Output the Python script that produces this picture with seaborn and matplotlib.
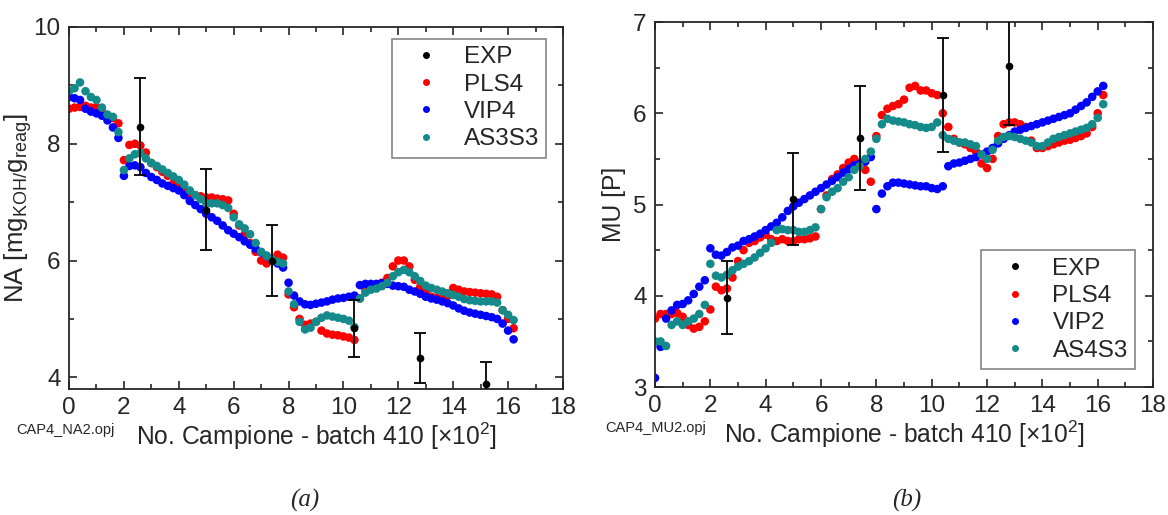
import numpy as np
import pandas as pd
import matplotlib
matplotlib.use('Agg')
import matplotlib.pyplot as plt
import seaborn as sns
from matplotlib.lines import Line2D
from matplotlib.ticker import MultipleLocator

# sample number (x 10^2), one reading every 0.2
sample = np.round(np.arange(0, 16.21, 0.2), 1)

# ---- (a) NA ----
na_pls4 = [8.6, 8.62, 8.63, 8.65, 8.62, 8.63, 8.55, 8.48, 8.44, 8.35,
           7.72, 7.98, 8.0, 7.97, 7.85, 7.67, 7.6, 7.52, 7.45, 7.32,
           7.24, 7.2, 7.15, 7.12, 7.1, 7.08, 7.08, 7.06, 7.05, 7.03,
           6.8, 6.6, 6.45, 6.3, 6.15, 6.0, 5.95, 6.0, 6.1, 6.05,
           5.42, 5.2, 5.0, 4.9, 4.92, 4.95, 4.8, 4.75, 4.73, 4.72,
           4.7, 4.68, 4.64, 5.35, 5.5, 5.55, 5.58, 5.62, 5.7, 5.9,
           6.0, 6.0, 5.9, 5.67, 5.55, 5.45, 5.38, 5.36, 5.35, 5.4,
           5.53, 5.5, 5.47, 5.46, 5.45, 5.44, 5.43, 5.42, 5.38, 5.15,
           5.0, 4.84]
na_vip4 = [8.8, 8.78, 8.75, 8.6, 8.55, 8.52, 8.48, 8.4, 8.28, 8.1,
           7.45, 7.62, 7.63, 7.6, 7.5, 7.43, 7.38, 7.32, 7.28, 7.24,
           7.2, 7.12, 7.02, 6.95, 6.88, 6.8, 6.74, 6.68, 6.6, 6.52,
           6.46, 6.4, 6.33, 6.27, 6.2, 6.14, 6.08, 6.02, 5.95, 5.88,
           5.62, 5.4, 5.3, 5.25, 5.24, 5.26, 5.28, 5.3, 5.33, 5.35,
           5.36, 5.38, 5.4, 5.58, 5.6, 5.6, 5.6, 5.61, 5.6, 5.57,
           5.56, 5.55, 5.5, 5.47, 5.43, 5.38, 5.35, 5.33, 5.3, 5.27,
           5.23, 5.18, 5.14, 5.11, 5.09, 5.07, 5.05, 5.03, 5.0, 4.92,
           4.8, 4.65]
na_as3s3 = [8.9, 8.95, 9.05, 8.9, 8.8, 8.75, 8.62, 8.5, 8.46, 8.2,
            7.55, 7.75, 7.82, 7.84, 7.75, 7.67, 7.62, 7.56, 7.5, 7.44,
            7.38, 7.3, 7.2, 7.12, 7.05, 6.98, 6.98, 6.98, 6.95, 6.9,
            6.74, 6.62, 6.55, 6.45, 6.3, 6.15, 6.08, 6.02, 5.98, 5.95,
            5.47, 5.25, 4.95, 4.82, 4.85, 4.95, 5.02, 5.06, 5.04, 5.02,
            5.0, 4.97, 4.86, 5.35, 5.45, 5.5, 5.52, 5.56, 5.62, 5.73,
            5.8, 5.84, 5.8, 5.73, 5.65, 5.57, 5.53, 5.5, 5.47, 5.44,
            5.41, 5.38, 5.34, 5.32, 5.31, 5.3, 5.3, 5.3, 5.28, 5.15,
            5.07, 4.98]
na_exp_x = [2.6, 5.0, 7.4, 10.4, 12.8, 15.2]
na_exp_y = [8.29, 6.87, 6.0, 4.84, 4.33, 3.88]
na_exp_err = [0.83, 0.69, 0.6, 0.49, 0.43, 0.39]

# ---- (b) MU ----
mu_pls4 = [3.75, 3.8, 3.8, 3.8, 3.81, 3.77, 3.68, 3.64, 3.66, 3.72,
           3.85, 4.1, 4.06, 4.08, 4.2, 4.38, 4.5, 4.58, 4.6, 4.64,
           4.67, 4.62, 4.6, 4.62, 4.6, 4.6, 4.62, 4.62, 4.63, 4.65,
           4.95, 5.1, 5.28, 5.33, 5.4, 5.46, 5.5, 5.45, 5.38, 5.25,
           5.75, 5.98, 6.05, 6.08, 6.1, 6.15, 6.28, 6.3, 6.25, 6.25,
           6.22, 6.2, 6.0, 5.85, 5.72, 5.68, 5.66, 5.62, 5.58, 5.45,
           5.4, 5.5, 5.75, 5.88, 5.9, 5.9, 5.88, 5.85, 5.7, 5.62,
           5.62, 5.64, 5.66, 5.68, 5.7, 5.71, 5.73, 5.75, 5.78, 5.85,
           6.0, 6.2]
mu_vip2 = [3.1, 3.44, 3.75, 3.84, 3.9, 3.91, 3.95, 4.02, 4.1, 4.17,
           4.52, 4.45, 4.44, 4.48, 4.53, 4.55, 4.6, 4.62, 4.65, 4.68,
           4.72, 4.76, 4.8, 4.86, 4.93, 4.98, 5.02, 5.06, 5.1, 5.14,
           5.18, 5.22, 5.26, 5.3, 5.35, 5.39, 5.43, 5.45, 5.47, 5.52,
           4.95, 5.12, 5.2, 5.24, 5.24, 5.23, 5.22, 5.21, 5.2, 5.2,
           5.18, 5.17, 5.2, 5.42, 5.45, 5.46, 5.48, 5.5, 5.52, 5.55,
           5.58, 5.62, 5.67, 5.72, 5.76, 5.8, 5.82, 5.84, 5.86, 5.88,
           5.9, 5.92, 5.94, 5.96, 5.98, 6.0, 6.04, 6.08, 6.12, 6.18,
           6.24, 6.3]
mu_as4s3 = [3.5, 3.5, 3.45, 3.68, 3.72, 3.68, 3.72, 3.75, 3.8, 3.9,
            4.35, 4.22, 4.2, 4.23, 4.28, 4.32, 4.35, 4.38, 4.42, 4.47,
            4.52, 4.58, 4.72, 4.73, 4.72, 4.72, 4.7, 4.7, 4.72, 4.75,
            4.95, 5.08, 5.14, 5.18, 5.25, 5.3, 5.38, 5.42, 5.5, 5.58,
            5.72, 5.88, 5.94, 5.92, 5.91, 5.9, 5.88, 5.87, 5.85, 5.84,
            5.85, 5.9, 5.76, 5.72, 5.7, 5.68, 5.68, 5.66, 5.64, 5.55,
            5.5, 5.6, 5.7, 5.74, 5.75, 5.74, 5.72, 5.7, 5.68, 5.64,
            5.64, 5.68, 5.72, 5.74, 5.76, 5.78, 5.8, 5.82, 5.84, 5.88,
            5.95, 6.1]
mu_exp_x = [2.6, 5.0, 7.4, 10.4, 12.8]
mu_exp_y = [3.98, 5.06, 5.73, 6.2, 6.52]
mu_exp_err = [0.4, 0.5, 0.57, 0.62, 0.65]

RED, BLUE, TEAL = '#ff0000', '#0000ff', '#148a8a'

sns.set_style('ticks')
plt.rcParams['font.family'] = ['Liberation Sans', 'DejaVu Sans']
plt.rcParams['mathtext.default'] = 'regular'

fig = plt.figure(figsize=(11.68, 5.15), dpi=100)
ax1 = fig.add_axes([0.0591, 0.2447, 0.4229, 0.7029])
ax2 = fig.add_axes([0.5608, 0.2485, 0.4264, 0.7087])


def draw(ax, names, series, exp_x, exp_y, exp_err):
    n = len(sample)
    df = pd.DataFrame({'x': np.tile(sample, 3),
                       'y': series[0] + series[1] + series[2],
                       'model': [names[0]] * n + [names[1]] * n + [names[2]] * n})
    sns.scatterplot(data=df, x='x', y='y', hue='model',
                    palette=dict(zip(names, [RED, BLUE, TEAL])),
                    s=38, linewidth=0, legend=False, ax=ax)
    ax.errorbar(exp_x, exp_y, yerr=exp_err, fmt='o', color='k', ms=4.5,
                capsize=4, elinewidth=1.3, capthick=1.3, zorder=5)
    ax.set_xlim(0, 18)
    ax.xaxis.set_major_locator(MultipleLocator(2))
    ax.xaxis.set_minor_locator(MultipleLocator(1))
    ax.tick_params(which='both', direction='in', top=True, right=True,
                   labelsize=17.5, width=1.2)
    ax.tick_params(which='major', length=6, pad=6)
    ax.tick_params(which='minor', length=3.5)
    for sp in ax.spines.values():
        sp.set_linewidth(1.3)
    ax.set_xlabel('No. Campione - batch 410 [×10$^2$]', fontsize=17.7, labelpad=1)
    handles = [Line2D([], [], marker='o', ls='', color=c, ms=4)
               for c in ['k', RED, BLUE, TEAL]]
    return handles, ['EXP'] + names


def add_legend(ax, h, l, loc, anchor):
    leg = ax.legend(h, l, loc=loc, bbox_to_anchor=anchor,
                    borderaxespad=0, fontsize=17.5, frameon=True, fancybox=False,
                    edgecolor='#666666', handletextpad=0.45, labelspacing=0.22,
                    borderpad=0.3, handlelength=2.2)
    leg.get_frame().set_linewidth(1.2)


h, l = draw(ax1, ['PLS4', 'VIP4', 'AS3S3'], [na_pls4, na_vip4, na_as3s3],
            na_exp_x, na_exp_y, na_exp_err)
ax1.set_ylim(3.8, 10)
ax1.yaxis.set_major_locator(MultipleLocator(2))
ax1.yaxis.set_minor_locator(MultipleLocator(1))
ax1.set_ylabel('NA [mg$_{KOH/}$g$_{reag}$]', fontsize=18.5, labelpad=0)
add_legend(ax1, h, l, 'upper right', (0.966, 0.967))

h, l = draw(ax2, ['PLS4', 'VIP2', 'AS4S3'], [mu_pls4, mu_vip2, mu_as4s3],
            mu_exp_x, mu_exp_y, mu_exp_err)
ax2.set_ylim(3, 7)
ax2.yaxis.set_major_locator(MultipleLocator(1))
ax2.yaxis.set_minor_locator(MultipleLocator(0.5))
ax2.set_ylabel('MU [P]', fontsize=17.7, labelpad=5)
add_legend(ax2, h, l, 'lower right', (0.964, 0.049))

fig.text(16 / 1168, 1 - 430 / 515, 'CAP4_NA2.opj', fontsize=10.5, va='center')
fig.text(605 / 1168, 1 - 428 / 515, 'CAP4_MU2.opj', fontsize=10.5, va='center')
fig.text(305 / 1168, 1 - 500 / 515, '(a)', fontsize=18, style='italic',
         family='Liberation Serif', ha='center', va='center')
fig.text(907 / 1168, 1 - 500 / 515, '(b)', fontsize=18, style='italic',
         family='Liberation Serif', ha='center', va='center')

fig.savefig('out.png', dpi=100)
